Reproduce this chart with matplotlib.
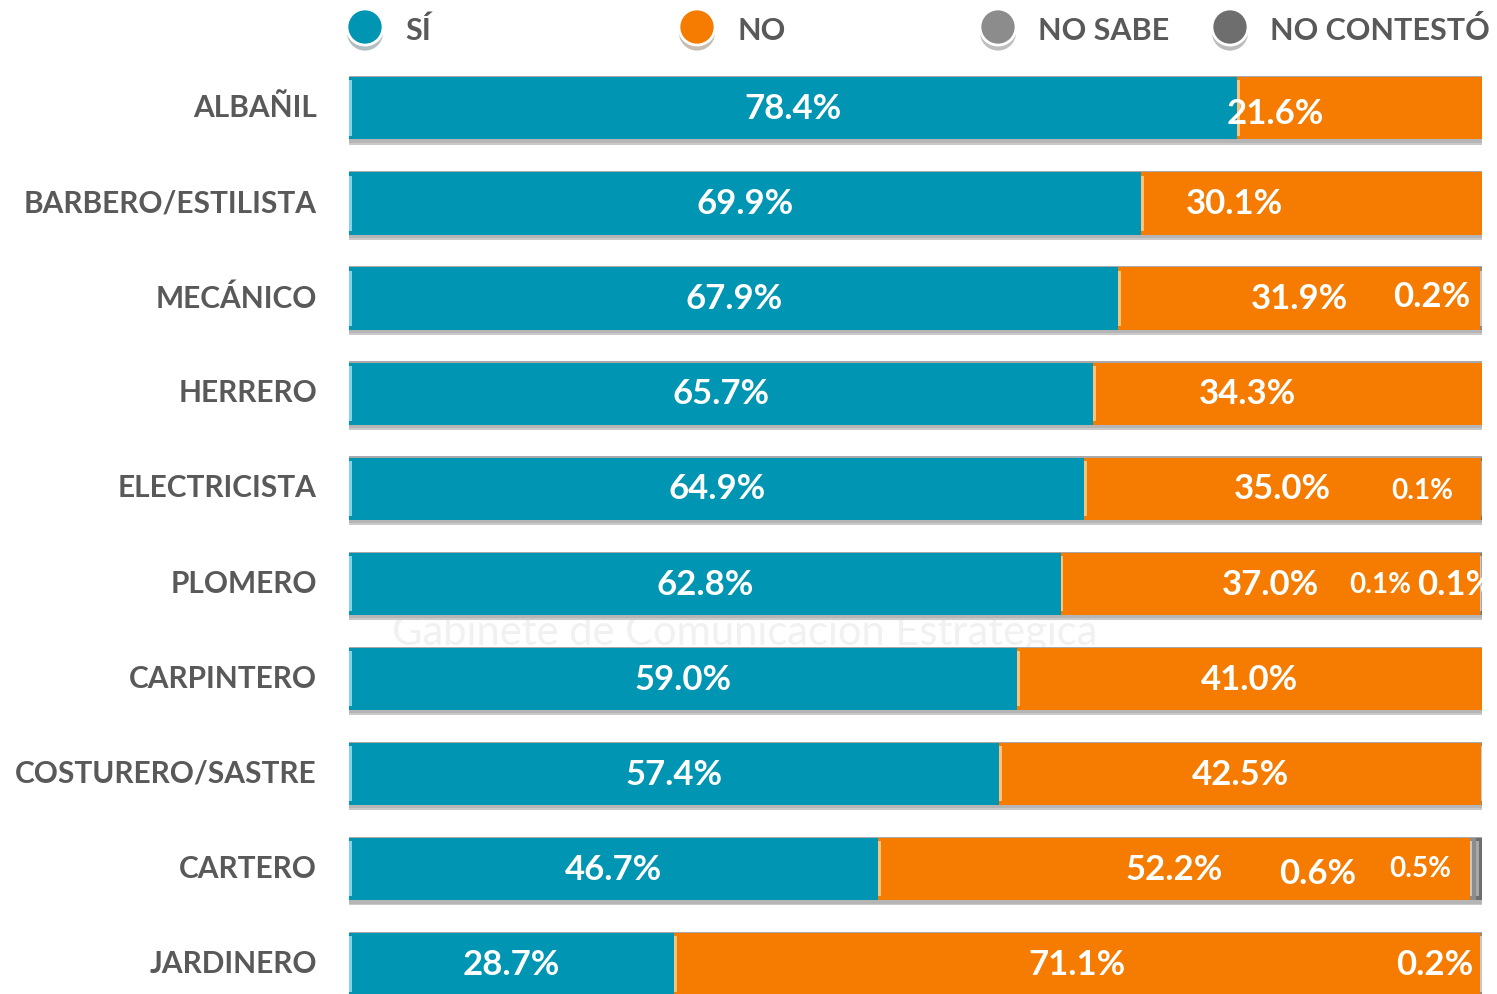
import matplotlib
matplotlib.use("Agg")
import matplotlib.pyplot as plt
import matplotlib.patheffects as pe
from matplotlib.lines import Line2D
import numpy as np

categories = ["ALBAÑIL", "BARBERO/ESTILISTA", "MECÁNICO", "HERRERO", "ELECTRICISTA",
              "PLOMERO", "CARPINTERO", "COSTURERO/SASTRE", "CARTERO", "JARDINERO"]
si = [78.4, 69.9, 67.9, 65.7, 64.9, 62.8, 59.0, 57.4, 46.7, 28.7]
no = [21.6, 30.1, 31.9, 34.3, 35.0, 37.0, 41.0, 42.5, 52.2, 71.1]
no_sabe = [0.0, 0.0, 0.2, 0.0, 0.0, 0.1, 0.0, 0.1, 0.6, 0.2]
no_contesto = [0.0, 0.0, 0.0, 0.0, 0.1, 0.1, 0.0, 0.0, 0.5, 0.0]
series_names = ["SÍ", "NO", "NO SABE", "NO CONTESTÓ"]

colors = ["#0095B3", "#F57C00", "#8C8C8C", "#6E6E6E"]
light = ["#7FD6E8", "#FFC27A", "#C8C8C8", "#A8A8A8"]
FONT = "Lato"
TXT = "#595959"

fig = plt.figure(figsize=(14.97, 9.94), dpi=100)
W, H = 1497, 994
left_px, right_px = 349, 1482
top_px, bot_px = 60.5, 1011.5
ax = fig.add_axes([left_px / W, 1 - bot_px / H, (right_px - left_px) / W, (bot_px - top_px) / H])
ax.set_xlim(0, 100)
ax.set_ylim(len(categories) - 0.5, -0.5)
ax.axis("off")

# faint watermark behind bars, sitting in the gap between two rows
fig.text(745 / W, 1 - 633 / H, "Gabinete de Comunicación Estratégica", fontsize=30, color="#F1F1F1",
         ha="center", va="center", family=FONT, zorder=-1)

y = np.arange(len(categories))
data = [si, no, no_sabe, no_contesto]
totals = np.sum(np.array(data), axis=0)
bar_h = 0.66

# drop shadow under each full bar
ax.barh(y + 0.055, totals, height=bar_h, color="#C9C9C9", edgecolor="none", zorder=1)
ax.barh(y + 0.035, totals, height=bar_h, color="#B5B5B5", edgecolor="none", zorder=1.2)

left = np.zeros(len(categories))
for k, vals in enumerate(data):
    vals = np.array(vals)
    ax.barh(y, vals, left=left, height=bar_h, color=colors[k], edgecolor="none", zorder=2)
    m = vals > 0
    ax.barh(y[m], np.minimum(vals[m], 0.25), left=left[m], height=bar_h * 0.88,
            color=light[k], edgecolor="none", zorder=3)
    left = left + vals
# thin top border
ax.barh(y - bar_h / 2, totals, height=0.012, color="#A9A9A9", edgecolor="none", zorder=3)

big = 25
small = 20
no_off = {0: (-84, -5), 1: (-77, 0), 3: (-40, 0)}
for i in range(len(categories)):
    ax.text(si[i] / 2, i + 0.01, f"{si[i]:.1f}%", ha="center", va="center", color="white",
            fontsize=big, fontweight="bold", family=FONT, zorder=5)
    dx, dy = no_off.get(i, (0, 0))
    ax.annotate(f"{no[i]:.1f}%", (si[i] + no[i] / 2, i + 0.01), xytext=(dx * 0.72, dy * 0.72),
                textcoords="offset points", ha="center", va="center", color="white",
                fontsize=big, fontweight="bold", family=FONT, zorder=5)

# small segment labels: (row, series) -> (x offset px, y offset px, size)
small_lab = {
    (2, 2): (-49, 2, big),
    (4, 3): (-59, -2, small),
    (5, 2): (-100, 0, small),
    (5, 3): (-26, 0, big),
    (8, 2): (-155, -4, big),
    (8, 3): (-59, 1, small),
    (9, 2): (-46, 0, big),
}
cum = np.vstack([np.zeros(len(categories)), np.cumsum(np.array(data), axis=0)])
for (i, k), (dx, dy, fs) in small_lab.items():
    v = data[k][i]
    c = (cum[k][i] + cum[k + 1][i]) / 2
    t = ax.annotate(f"{v:.1f}%", (c, i + 0.01), xytext=(dx * 0.72, dy * 0.72), textcoords="offset points",
                    ha="center", va="center", color="white", fontsize=fs, fontweight="bold",
                    family=FONT, zorder=5, annotation_clip=False)
    t.set_clip_on(True)

for i, cat in enumerate(categories):
    ax.annotate(cat, (0, i), xytext=(-32 * 0.72, 0), textcoords="offset points", ha="right",
                va="center", color=TXT, fontsize=21.5, fontweight="bold", family=FONT,
                annotation_clip=False)

leg_x = [365, 697, 998, 1230]
leg_y = 1 - 27 / H
for k, name in enumerate(series_names):
    fig.add_artist(Line2D([leg_x[k] / W], [leg_y], marker="o", markersize=26, color=colors[k],
                          markeredgecolor="white", markeredgewidth=2, transform=fig.transFigure,
                          path_effects=[pe.SimplePatchShadow(offset=(0, -4), alpha=0.3), pe.Normal()]))
    fig.text((leg_x[k] + 40) / W, leg_y - 4 / H, name, ha="left", va="center", color=TXT,
             fontsize=22, fontweight="bold", family=FONT)

fig.savefig("out.png", dpi=100, facecolor="white")
